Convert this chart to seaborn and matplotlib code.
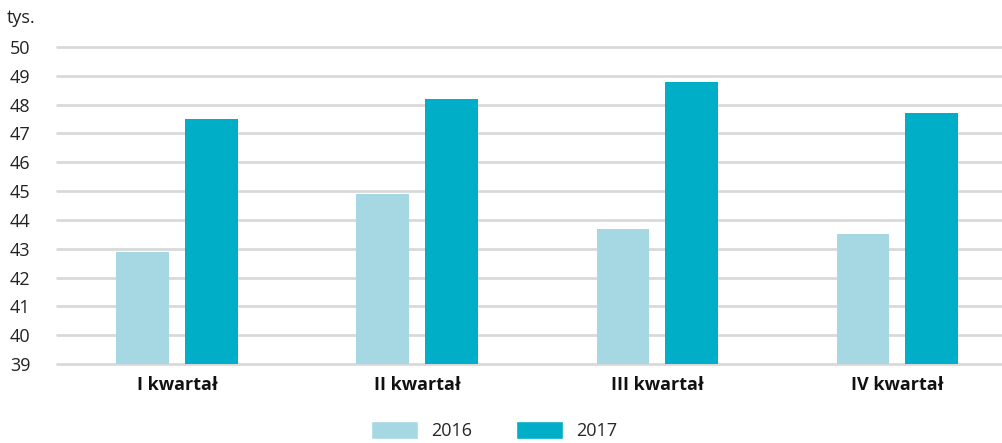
import matplotlib
matplotlib.use("Agg")
import matplotlib.pyplot as plt
import seaborn as sns
import pandas as pd
from matplotlib.patches import Patch

categories = ["I kwartał", "II kwartał", "III kwartał", "IV kwartał"]
years = ["2016", "2017"]
values_2016 = [42.9, 44.9, 43.7, 43.5]
values_2017 = [47.5, 48.2, 48.8, 47.7]
y_ticks = list(range(39, 51))
colors = ["#a6d8e3", "#00aec7"]

df = pd.DataFrame({
    "kwartal": categories * 2,
    "rok": [years[0]] * 4 + [years[1]] * 4,
    "wartosc": values_2016 + values_2017,
})

sns.set_theme(style="white")
plt.rcParams["font.family"] = ["Open Sans", "DejaVu Sans"]

fig = plt.figure(figsize=(10.03, 4.43), dpi=100)
ax = fig.add_axes([57 / 1003, 1 - 364 / 443, 1 - 57 / 1003, (364 - 47) / 443])

sns.barplot(data=df, x="kwartal", y="wartosc", hue="rok", palette=colors,
            width=0.571, gap=0.23, ax=ax, legend=False, saturation=1,
            linewidth=0)

ax.set_ylim(39, 50)
ax.set_xlim(-0.5, 3.44)
ax.set_yticks(y_ticks)
ax.set_yticklabels([str(t) for t in y_ticks], fontsize=13, color="#222222")
ax.set_xticks(range(len(categories)))
ax.set_xticklabels(categories, fontsize=13, fontweight="bold", color="#111111")
ax.tick_params(axis="both", length=0)
ax.tick_params(axis="y", pad=19)
ax.tick_params(axis="x", pad=9)
ax.set_xlabel("")
ax.set_ylabel("")
for s in ax.spines.values():
    s.set_visible(False)
ax.set_axisbelow(True)
for t in y_ticks:
    ax.axhline(t, color="#d9d9d9", linewidth=2, zorder=0, clip_on=False)

fig.text(7 / 1003, 1 - 18 / 443, "tys.", fontsize=13, color="#222222", va="center", ha="left")

handles = [Patch(facecolor=colors[0]), Patch(facecolor=colors[1])]
fig.legend(handles, years, loc="upper center", bbox_to_anchor=(494 / 1003, 1 - 405 / 443),
           ncol=2, frameon=False, fontsize=13, handlelength=2.6, handleheight=1.1,
           columnspacing=2.4, handletextpad=0.75)

fig.savefig("out.png", dpi=100)
